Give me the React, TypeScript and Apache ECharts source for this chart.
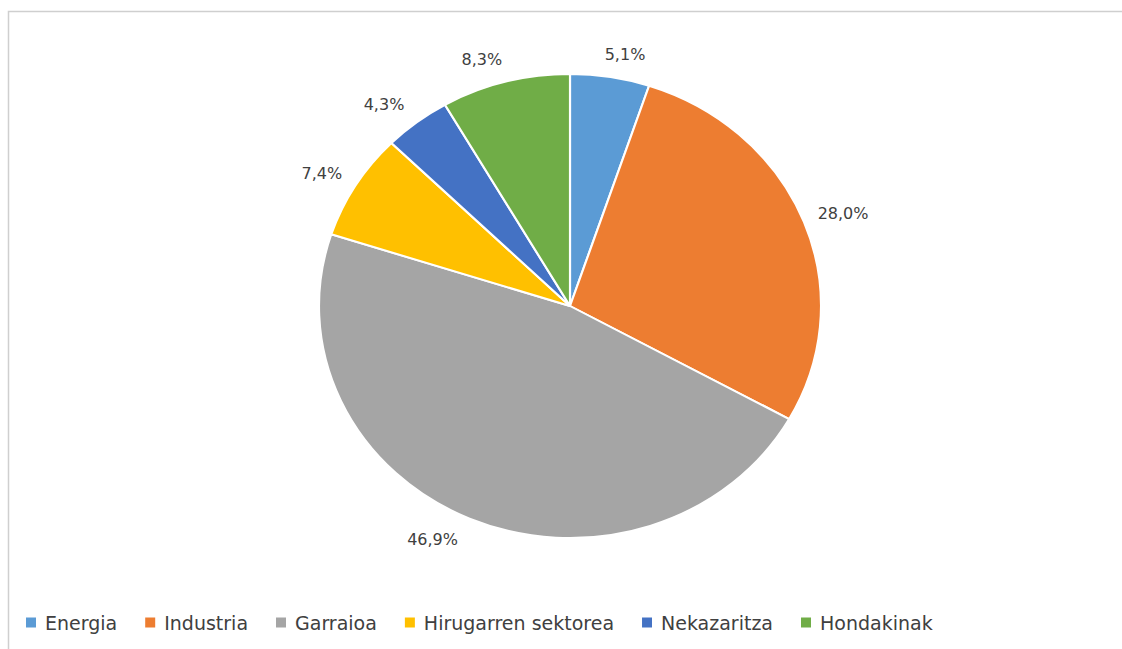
import React, { useEffect, useRef } from "react";
import * as echarts from "echarts";

const categories = ["Energia", "Industria", "Garraioa", "Hirugarren sektorea", "Nekazaritza", "Hondakinak"];
const shares = [5.1, 28.0, 46.9, 7.4, 4.3, 8.3];
const colors = ["#5B9BD5", "#ED7D31", "#A5A5A5", "#FFC000", "#4472C4", "#70AD47"];

const pieData = () => categories.map((name, i) => ({ name, value: shares[i] }));

export default function App() {
  const pieRef = useRef<HTMLDivElement>(null);
  const topRef = useRef<HTMLDivElement>(null);
  useEffect(() => {
    if (!pieRef.current || !topRef.current) return;
    const fmt = (v: number) => v.toFixed(1).replace(".", ",") + "%";

    // Pie body: drawn as a circle, the div is stretched horizontally to give the reference's ellipse
    const pieChart = echarts.init(pieRef.current, null, { renderer: "svg" });
    pieChart.setOption({
      animation: false,
      color: colors,
      series: [
        {
          type: "pie",
          center: [270, 256],
          radius: 232,
          startAngle: 90,
          clockwise: true,
          silent: true,
          itemStyle: { borderColor: "#ffffff", borderWidth: 2 },
          label: { show: false },
          labelLine: { show: false },
          data: pieData(),
        },
      ],
    });

    // Overlay: frame, legend and data labels
    const labelData = pieData().map((d, i) => {
      if (i === 0) return { ...d, label: { offset: [-16, 0] } };
      if (i === categories.length - 1) return { ...d, label: { offset: [8, 0] } };
      return d;
    });
    const chart = echarts.init(topRef.current, null, { renderer: "svg" });
    chart.setOption({
      animation: false,
      color: colors,
      graphic: [
        {
          type: "rect",
          silent: true,
          shape: { x: 8.5, y: 11.5, width: 1300, height: 800 },
          style: { fill: "none", stroke: "#cfcfcf", lineWidth: 1.5 },
        },
      ],
      legend: {
        left: 26,
        top: 613,
        padding: 0,
        itemWidth: 10,
        itemHeight: 10,
        itemGap: 28,
        icon: "rect",
        data: categories,
        itemStyle: { opacity: 1, borderWidth: 0 },
        textStyle: {
          fontFamily: "DejaVu Sans",
          fontSize: 19,
          color: "#404040",
          padding: [0, 0, 0, 4],
        },
      },
      series: [
        {
          type: "pie",
          center: [570, 306],
          radius: 242,
          startAngle: 90,
          clockwise: true,
          silent: true,
          avoidLabelOverlap: false,
          itemStyle: { opacity: 0 },
          label: {
            show: true,
            position: "outside",
            fontFamily: "DejaVu Sans",
            fontSize: 16,
            color: "#404040",
            opacity: 1,
            formatter: (p: any) => fmt(p.value),
          },
          labelLine: { show: false, length: 13, length2: 5 },
          emphasis: { disabled: true },
          data: labelData,
        },
      ],
    });
    return () => {
      pieChart.dispose();
      chart.dispose();
    };
  }, []);
  return (
    <>
      <div
        ref={pieRef}
        style={{
          position: "absolute",
          left: 300,
          top: 50,
          width: 540,
          height: 512,
          transform: "scaleX(1.082)",
          transformOrigin: "270px 256px",
        }}
      />
      <div
        ref={topRef}
        style={{ position: "absolute", left: 0, top: 0, width: 1122, height: 649 }}
      />
    </>
  );
}
